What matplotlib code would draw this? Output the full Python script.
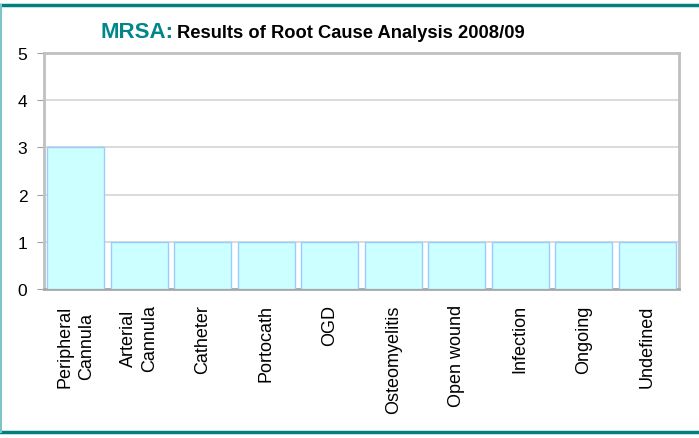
import matplotlib
matplotlib.use("Agg")
import matplotlib.pyplot as plt
from matplotlib.lines import Line2D

categories = ["Peripheral\nCannula", "Arterial\nCannula", "Catheter", "Portocath", "OGD",
              "Osteomyelitis", "Open wound", "Infection", "Ongoing", "Undefined"]
values = [3, 1, 1, 1, 1, 1, 1, 1, 1, 1]
yticks = [0, 1, 2, 3, 4, 5]

plt.rcParams['font.family'] = ['Liberation Sans', 'DejaVu Sans']

W, H = 699, 439
fig = plt.figure(figsize=(W / 100, H / 100), dpi=100)
ax = fig.add_axes([44 / W, 1 - 290 / H, (679 - 44) / W, (290 - 54) / H])

x = list(range(len(categories)))
ax.bar(x, values, width=0.9, color="#CCFFFF", edgecolor="#99CCFF", linewidth=1, zorder=3)
ax.set_xlim(-0.5, len(categories) - 0.5)
ax.set_ylim(0, 5)
ax.set_yticks(yticks)
ax.set_yticklabels([str(t) for t in yticks], fontsize=12.5)
ax.yaxis.grid(True, color="#d4d4d4", linewidth=1.2, zorder=0)
ax.set_xticks(x)
ax.set_xticklabels(categories, rotation=90, fontsize=13, va="top", ha="center",
                   multialignment="center", linespacing=1.35)
ax.tick_params(axis="x", length=0, pad=11)
ax.tick_params(axis="y", length=5, color="#a0a0a0", pad=7)
for s in ax.spines.values():
    s.set_color("#c0c0c0")
    s.set_linewidth(2)
ax.spines["bottom"].set_color("#a8a8a8")

# title
fig.text(100 / W, 1 - 33 / H, "MRSA:", color="#00868B", fontsize=16, fontweight="bold",
         va="center", ha="left")
fig.text(177 / W, 1 - 34 / H, "Results of Root Cause Analysis 2008/09", color="black",
         fontsize=13.2, fontweight="bold", va="center", ha="left")

# outer frame lines
fig.add_artist(Line2D([0, 1], [1 - 5.5 / H, 1 - 5.5 / H], transform=fig.transFigure,
                      color="#008080", linewidth=2.5))
fig.add_artist(Line2D([0, 1], [1 - 433 / H, 1 - 433 / H], transform=fig.transFigure,
                      color="#008080", linewidth=2.5))
fig.add_artist(Line2D([0.7 / W, 0.7 / W], [1 - 433 / H, 1 - 5.5 / H], transform=fig.transFigure,
                      color="#7fc4c4", linewidth=1.5))

fig.savefig("out.png", dpi=100)
